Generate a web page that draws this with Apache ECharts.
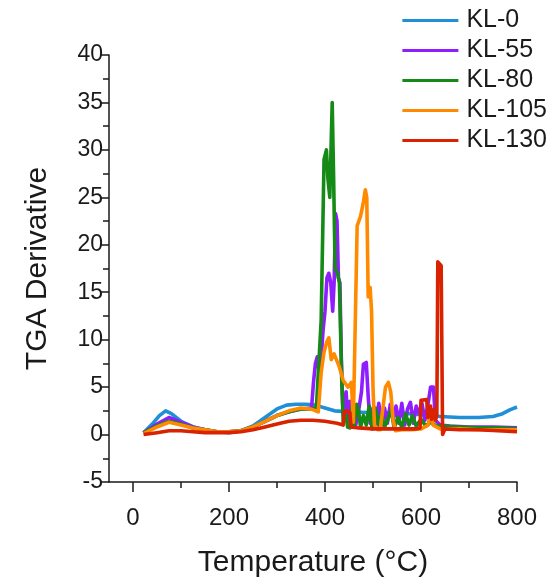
<!DOCTYPE html>
<html>
<head>
<meta charset="utf-8">
<script src="https://cdn.jsdelivr.net/npm/echarts@6/dist/echarts.min.js"></script>
<style>
  html, body { margin: 0; padding: 0; background: #fff; }
  #chart { width: 554px; height: 578px; }
</style>
</head>
<body>
<div id="chart"></div>
<script>
// Derivative thermogravimetric curves of the KL samples.
const seriesNames = ['KL-0', 'KL-55', 'KL-80', 'KL-105', 'KL-130'];
const seriesColors = ['#1f8fd8', '#8f1eff', '#168a16', '#ff8a00', '#d82200'];

const xMajorTicks = [0, 200, 400, 600, 800];
const xMinorTicks = [100, 300, 500, 700];

// KL-0
const kl0Temp = [22, 40, 55, 68, 80, 100, 125, 150, 175, 200, 225, 250, 275, 300, 320, 340, 360, 380, 400, 420, 450, 500, 550, 600, 640, 680, 720, 750, 770, 785, 800];
const kl0Deriv = [0.2, 1.1, 2.0, 2.5, 2.2, 1.4, 0.8, 0.5, 0.3, 0.2, 0.4, 0.9, 1.8, 2.7, 3.1, 3.2, 3.2, 3.1, 2.8, 2.5, 2.4, 2.3, 2.3, 2.1, 1.9, 1.8, 1.8, 1.9, 2.2, 2.6, 2.9];

// KL-55
const kl55Temp = [22, 50, 75, 100, 125, 150, 175, 200, 225, 250, 275, 300, 325, 350, 372,
  376, 380, 384, 388, 392, 396, 400, 404, 408, 412, 416, 419, 422, 425, 428, 431, 434, 437,
  440, 444, 448, 452, 456, 460, 464, 470, 476, 480, 486, 490, 494, 500, 506, 512, 518, 524,
  530, 536, 542, 548, 554, 560, 566, 572, 578, 584, 590, 596, 602, 608, 614, 620, 626, 630,
  640, 660, 700, 750, 800];
const kl55Deriv = [0.2, 1.1, 1.8, 1.3, 0.8, 0.5, 0.3, 0.3, 0.4, 0.8, 1.4, 2.0, 2.4, 2.7, 2.8,
  5.5, 7.5, 8.2, 6.5, 8.0, 11.0, 13.0, 16.5, 17.0, 16.0, 13.0, 16.0, 23.3, 22.5, 16.5, 16.0, 8.0, 3.0,
  1.5, 4.5, 1.0, 3.5, 1.2, 3.2, 1.0, 2.5, 4.5, 7.4, 7.6, 4.0, 1.2, 2.8, 0.8, 3.3, 1.0, 2.8,
  1.2, 3.2, 1.5, 3.0, 1.2, 3.3, 1.0, 2.7, 3.4, 1.2, 3.0, 2.2, 3.3, 1.5, 3.0, 5.0, 5.0, 1.5,
  1.0, 0.9, 0.8, 0.8, 0.7];

// KL-80
const kl80Temp = [22, 50, 75, 100, 125, 150, 175, 200, 225, 250, 275, 300, 325, 350, 370, 382,
  386, 392, 398, 403, 406, 410, 413, 415, 418, 421, 426, 430, 435, 438,
  444, 447, 452, 457, 460, 466, 470, 474, 480, 486, 492, 498, 505, 512, 518, 524, 530, 538,
  544, 552, 560, 568, 575, 582, 590, 600, 610, 620, 632, 645, 680, 720, 760, 800];
const kl80Deriv = [0.2, 0.9, 1.4, 1.1, 0.7, 0.5, 0.3, 0.3, 0.4, 0.8, 1.4, 2.0, 2.4, 2.7, 2.7, 2.8,
  3.0, 12.0, 29.0, 30.0, 27.0, 25.0, 31.0, 35.0, 27.0, 17.5, 17.0, 16.0, 5.5, 1.3,
  2.0, 0.8, 0.7, 3.0, 0.8, 3.2, 2.5, 0.8, 2.0, 1.0, 3.0, 0.6, 2.8, 1.0, 2.2, 0.8, 1.5, 2.6,
  0.7, 1.8, 0.8, 2.2, 1.0, 2.0, 0.9, 1.6, 0.9, 1.3, 0.9, 0.9, 0.8, 0.7, 0.7, 0.6];

// KL-105
const kl105Temp = [22, 50, 75, 100, 125, 150, 175, 200, 225, 250, 275, 300, 325, 350, 370, 386,
  392, 398, 404, 408, 413, 419, 430, 438, 448, 455, 459, 463, 467, 474, 480, 484, 487, 490,
  494, 497, 500, 503, 510, 515, 520, 526, 532, 537, 542, 547, 560, 580, 600, 615, 620, 625,
  640, 680, 720, 760, 800];
const kl105Deriv = [0.1, 0.8, 1.3, 1.0, 0.7, 0.5, 0.3, 0.3, 0.4, 0.8, 1.4, 2.0, 2.5, 2.8, 2.7, 2.4,
  6.5, 8.7, 9.8, 10.2, 7.9, 8.5, 7.1, 5.7, 5.0, 5.5, 1.3, 1.5, 22.0, 23.0, 24.5, 25.8, 25.0, 14.5,
  15.5, 13.0, 5.0, 1.0, 0.5, 0.5, 2.5, 5.0, 5.5, 4.5, 1.5, 0.4, 0.5, 0.5, 0.6, 1.0, 2.6, 1.0,
  0.6, 0.6, 0.5, 0.5, 0.5];

// KL-130
const kl130Temp = [22, 50, 75, 100, 125, 150, 175, 200, 225, 250, 275, 300, 325, 350, 375, 400, 425,
  438, 440, 446, 452, 454, 470, 500, 550, 590, 598, 600, 612, 614, 618, 620, 622, 626, 630, 633,
  635, 642, 645, 650, 680, 720, 760, 800];
const kl130Deriv = [0.0, 0.2, 0.4, 0.4, 0.3, 0.2, 0.2, 0.2, 0.3, 0.5, 0.8, 1.1, 1.4, 1.5, 1.5, 1.4, 1.2,
  1.0, 2.4, 2.5, 2.3, 0.8, 0.7, 0.6, 0.6, 0.6, 0.7, 3.6, 3.7, 1.8, 2.2, 3.0, 1.6, 2.6, 1.5, 2.0,
  18.2, 17.8, 0.0, 0.6, 0.5, 0.5, 0.4, 0.3];

const temps = [kl0Temp, kl55Temp, kl80Temp, kl105Temp, kl130Temp];
const derivs = [kl0Deriv, kl55Deriv, kl80Deriv, kl105Deriv, kl130Deriv];

const FONT = '"Liberation Sans", Arial, sans-serif';
const INK = '#1a1a1a';

const chart = echarts.init(document.getElementById('chart'), null, { renderer: 'canvas' });

chart.setOption({
  animation: false,
  backgroundColor: '#ffffff',
  textStyle: { fontFamily: FONT, color: INK },
  grid: { left: 109, right: 37, top: 55, bottom: 96, containLabel: false, outerBoundsMode: 'none' },
  legend: {
    orient: 'vertical',
    right: 2,
    top: 3,
    itemWidth: 56,
    itemHeight: 14,
    itemGap: 5,
    icon: 'path://M0,5.5 L56,5.5 L56,8.5 L0,8.5 Z',
    textStyle: { fontFamily: FONT, fontSize: 25, color: INK, padding: [0, 0, 0, 3] },
    data: seriesNames
  },
  xAxis: [
    {
      type: 'value',
      min: -50,
      max: 800,
      position: 'bottom',
      name: 'Temperature (°C)',
      nameLocation: 'middle',
      nameGap: 66,
      nameTextStyle: { fontFamily: FONT, fontSize: 30, color: INK },
      axisLine: { show: true, onZero: false, lineStyle: { color: INK, width: 1.5 } },
      axisTick: { show: true, inside: false, length: 10, customValues: xMajorTicks, lineStyle: { color: INK, width: 1.5 } },
      axisLabel: { show: true, customValues: xMajorTicks, margin: 24, fontFamily: FONT, fontSize: 24, color: INK },
      splitLine: { show: false }
    },
    {
      type: 'value',
      min: -50,
      max: 800,
      position: 'bottom',
      axisLine: { show: false, onZero: false },
      axisTick: { show: true, inside: false, length: 6, customValues: xMinorTicks, lineStyle: { color: INK, width: 1.5 } },
      axisLabel: { show: false },
      splitLine: { show: false }
    }
  ],
  yAxis: {
    type: 'value',
    min: -5,
    max: 40,
    interval: 5,
    name: 'TGA Derivative',
    nameLocation: 'middle',
    nameGap: 56,
    nameTextStyle: { fontFamily: FONT, fontSize: 30, color: INK },
    axisLine: { show: true, onZero: false, lineStyle: { color: INK, width: 1.5 } },
    axisTick: { show: true, inside: false, length: 9, lineStyle: { color: INK, width: 1.5 } },
    minorTick: { show: true, splitNumber: 2, length: 6, lineStyle: { color: INK, width: 1.5 } },
    axisLabel: { margin: 6, fontFamily: FONT, fontSize: 23, color: INK },
    splitLine: { show: false }
  },
  series: seriesNames.map((name, i) => ({
    name: name,
    type: 'line',
    xAxisIndex: 0,
    symbol: 'none',
    smooth: false,
    color: seriesColors[i],
    lineStyle: { width: 3.6, color: seriesColors[i], join: 'round' },
    data: temps[i].map((t, k) => [t, derivs[i][k]]),
    z: 2 + i
  }))
});
</script>
</body>
</html>
